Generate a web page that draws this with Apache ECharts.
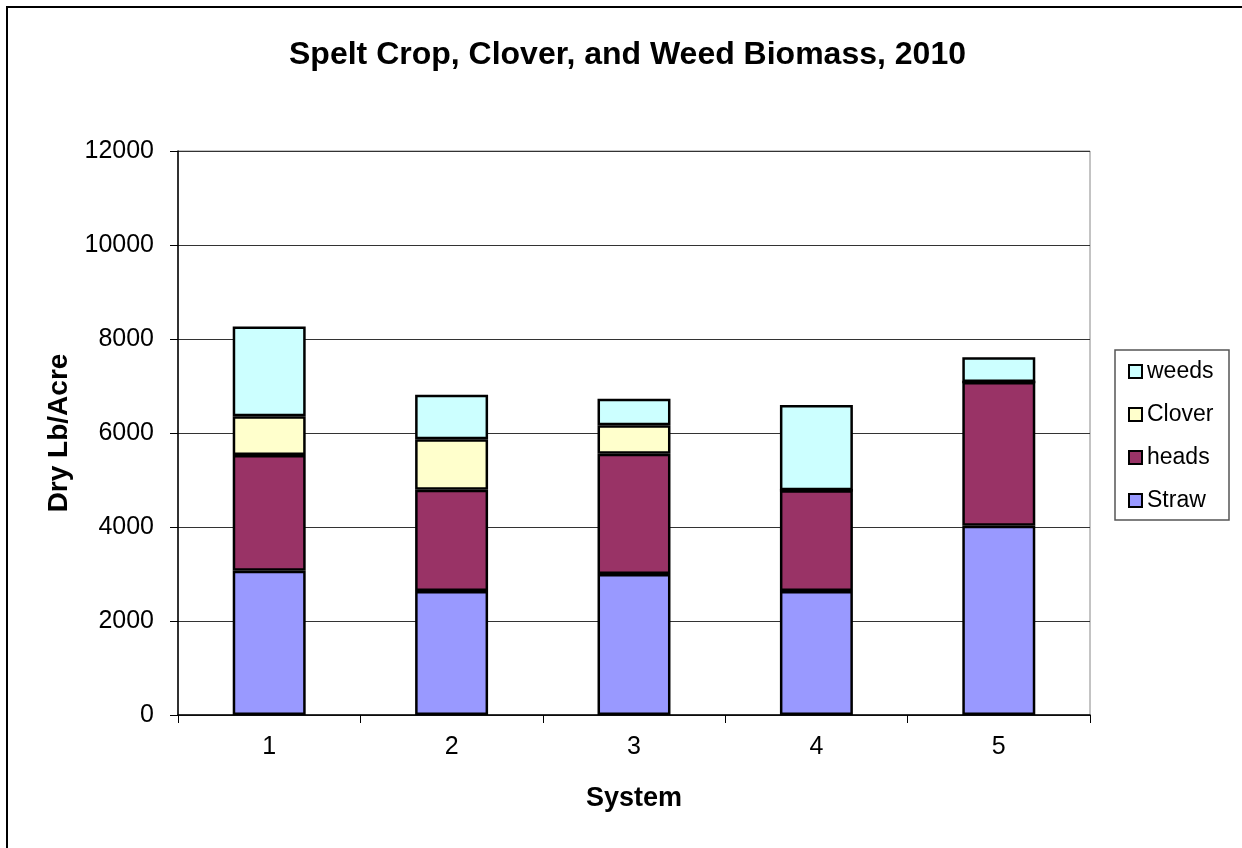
<!DOCTYPE html>
<html>
<head>
<meta charset="utf-8">
<script src="https://cdn.jsdelivr.net/npm/echarts@6/dist/echarts.min.js"></script>
<style>
  html, body { margin: 0; padding: 0; background: #fff; }
  #chart { width: 1242px; height: 848px; }
</style>
</head>
<body>
<div id="chart"></div>
<script>
// Spelt biomass by cropping system (dry lb/acre), stacked bottom-up
const systems = ['1', '2', '3', '4', '5'];
const straw  = [3070, 2640, 3000, 2640, 4025];
const heads  = [2460, 2150, 2560, 2140, 3060];
const clover = [825, 1075, 605, 0, 0];
const weeds  = [1910, 950, 565, 1815, 525];
const yTicks = [0, 2000, 4000, 6000, 8000, 10000, 12000];

const FONT = '"Liberation Sans", Arial, sans-serif';

function stackSeries(name, data, color) {
  return {
    name: name,
    type: 'bar',
    stack: 'biomass',
    data: data,
    barWidth: '40%',
    itemStyle: { color: color, borderColor: '#000', borderWidth: 2.5 },
    emphasis: { disabled: true }
  };
}

const chart = echarts.init(document.getElementById('chart'), null, { renderer: 'canvas' });
chart.setOption({
  animation: false,
  backgroundColor: '#fff',
  title: {
    text: 'Spelt Crop, Clover, and Weed Biomass, 2010',
    left: 289,
    top: 39,
    padding: 0,
    textStyle: { fontFamily: FONT, fontSize: 32, fontWeight: 'bold', color: '#000' }
  },
  legend: {
    orient: 'vertical',
    left: 1128,
    top: 360,
    padding: 0,
    itemGap: 20,
    itemWidth: 13,
    itemHeight: 13,
    icon: 'rect',
    data: ['weeds', 'Clover', 'heads', 'Straw'],
    itemStyle: { borderColor: '#000', borderWidth: 2 },
    textStyle: { fontFamily: FONT, fontSize: 23, color: '#000', lineHeight: 22 }
  },
  grid: { left: 178, right: 152, top: 151, bottom: 133, show: true, borderColor: '#888', borderWidth: 1 },
  xAxis: {
    type: 'category',
    data: systems,
    name: 'System',
    nameLocation: 'middle',
    nameGap: 70,
    nameTextStyle: { fontFamily: FONT, fontSize: 27, fontWeight: 'bold', color: '#000' },
    axisLine: { lineStyle: { color: '#000', width: 1.5 } },
    axisTick: { show: true, length: 8, lineStyle: { color: '#000' } },
    axisLabel: { fontFamily: FONT, fontSize: 25, color: '#000', margin: 20 }
  },
  yAxis: {
    type: 'value',
    min: yTicks[0],
    max: yTicks[yTicks.length - 1],
    interval: yTicks[1] - yTicks[0],
    name: 'Dry Lb/Acre',
    nameLocation: 'middle',
    nameGap: 97,
    nameTextStyle: { fontFamily: FONT, fontSize: 28, fontWeight: 'bold', color: '#000' },
    axisLine: { show: true, lineStyle: { color: '#000', width: 1.5 } },
    axisTick: { show: true, length: 8, lineStyle: { color: '#000' } },
    axisLabel: { fontFamily: FONT, fontSize: 25, color: '#000', margin: 24, formatter: v => String(v) },
    splitLine: { lineStyle: { color: '#333', width: 1 } }
  },
  graphic: [
    // outer chart frame
    { type: 'rect', shape: { x: 7, y: 7, width: 1400, height: 1000 }, style: { fill: 'none', stroke: '#000', lineWidth: 2 }, silent: true },
    // legend frame
    { type: 'rect', shape: { x: 1115, y: 350, width: 114, height: 170 }, style: { fill: 'none', stroke: '#555', lineWidth: 1.5 }, silent: true }
  ],
  series: [
    stackSeries('Straw', straw, '#9999FF'),
    stackSeries('heads', heads, '#993366'),
    stackSeries('Clover', clover, '#FFFFCC'),
    stackSeries('weeds', weeds, '#CCFFFF')
  ]
});
</script>
</body>
</html>
